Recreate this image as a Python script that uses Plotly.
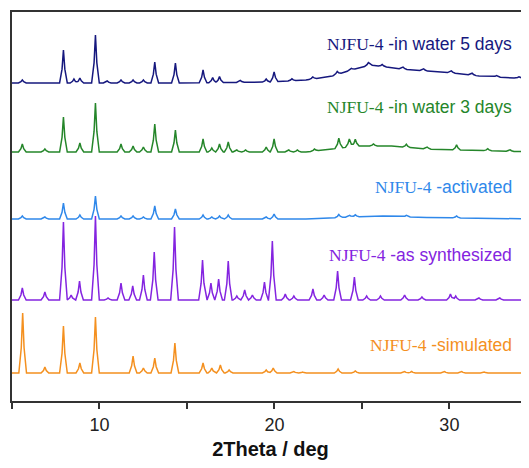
import numpy as np
import plotly.graph_objects as go

# ---------------- data ----------------
names = ["NJFU-4 -simulated", "NJFU-4 -as synthesized", "NJFU-4 -activated",
         "NJFU-4 -in water 3 days", "NJFU-4 -in water 5 days"]
colors = ["#f4901f", "#8424e0", "#2f88ea", "#25862a", "#16187e"]
offsets = [28, 101, 182, 249, 318]          # stacking offsets (a.u.)
label_y = [56, 146, 214, 294, 357]

sim_pos = [5.61, 6.88, 7.94, 8.88, 9.77, 11.92, 12.51, 13.16, 14.31, 15.92, 16.42, 16.91, 17.41,
           19.53, 19.93, 21.11, 21.61, 23.64, 24.62, 27.44, 27.84, 29.72, 30.70, 31.99]
sim_h = [60, 6, 47, 10, 56, 17, 5, 15, 30, 10, 5, 8, 3,
         3, 5, 1.5, 1, 4, 2, 1.5, 1.5, 1.5, 1.5, 1]
sim_bg_x = [5, 35]
sim_bg_y = [0, 0]

syn_pos = [5.59, 6.88, 7.94, 8.38, 8.86, 9.77, 10.49, 11.23, 11.9, 12.51, 13.13, 14.29,
           15.89, 16.37, 16.81, 17.36, 17.85, 18.30, 18.74, 19.43, 19.88, 20.62, 21.11,
           22.2, 22.84, 23.61, 24.57, 25.27, 26.06, 27.44, 28.43, 30.06, 30.36, 31.69, 32.88, 34.46]
syn_h = [12, 8, 78, 5, 19, 84, 2, 17, 14, 25, 48, 73,
         40, 17, 21, 39, 4, 10, 5, 18, 59, 6, 4,
         11, 5, 29, 23, 4, 4, 5, 3, 6, 4, 2, 2, 3]
syn_bg_x = [5, 35]
syn_bg_y = [0, 0]

act_pos = [5.59, 6.88, 7.94, 8.88, 9.77, 11.23, 11.92, 12.51, 13.16, 14.34, 15.92, 16.42, 16.86,
           17.36, 19.53, 19.98, 23.68, 24.28, 24.62, 27.54, 30.41]
act_h = [3, 2, 16, 4, 23, 3, 3, 2, 13, 10, 4, 2, 3,
         4, 2, 5, 3, 2, 2, 1.5, 2]
act_bg_x = [5, 21.8, 24.3, 26.2, 28.7, 35]
act_bg_y = [0, 0, 2, 3, 1.5, 0]

w3_pos = [5.59, 6.88, 7.94, 8.88, 9.77, 11.23, 11.92, 12.51, 13.16, 14.34, 15.92, 16.42, 16.86,
          17.36, 17.85, 18.35, 19.53, 19.98, 20.82, 21.31, 22.29, 23.68, 24.28, 24.62, 25.66,
          27.54, 28.73, 30.41, 32.19, 33.47]
w3_h = [8, 3, 35, 9, 49, 8, 6, 5, 28, 22, 13, 4, 8,
        10, 2, 2, 5, 13, 2, 2, 2, 10, 8, 7, 2,
        3, 2, 5, 2, 1.5]
w3_bg_x = [5, 21.8, 23.3, 24.7, 26.7, 28.7, 31.7, 35]
w3_bg_y = [0, 0, 3, 6, 6, 3, 1.5, 0]

w5_pos = [5.59, 7.94, 8.54, 8.88, 9.77, 10.44, 11.23, 11.92, 12.51, 13.16, 14.34, 15.92, 16.47,
          16.86, 18.05, 19.53, 19.98, 21.0, 22.19, 23.59, 24.38, 25.37, 26.16, 27.35, 28.53,
          30.11, 31.3, 32.69, 33.98]
w5_h = [3, 33, 4, 5, 48, 2, 3, 3, 3, 21, 20, 13, 5,
        6, 2, 3, 10, 2, 2, 3, 2, 3, 2, 2, 2,
        2, 2, 1.5, 1.5]
w5_bg_x = [5, 15, 19.8, 21.8, 23.3, 24.4, 25.5, 26.4, 27.3, 28.7, 30.2, 31.7, 33.7, 35]
w5_bg_y = [0, 0, 1, 3, 7, 13, 18, 16, 14, 12, 10, 7, 5, 4]

series = [
    (sim_pos, sim_h, sim_bg_x, sim_bg_y),
    (syn_pos, syn_h, syn_bg_x, syn_bg_y),
    (act_pos, act_h, act_bg_x, act_bg_y),
    (w3_pos, w3_h, w3_bg_x, w3_bg_y),
    (w5_pos, w5_h, w5_bg_x, w5_bg_y),
]

# peak shape (style only)
kx = [-0.22, -0.08, 0.0, 0.08, 0.22]
ky = [0.0, 0.42, 1.0, 0.42, 0.0]


def build(pos, h, bgx, bgy, off):
    xs = set(bgx)
    for p in pos:
        for d in kx:
            xs.add(round(p + d, 4))
    xs = np.array(sorted(xs))
    ys = np.interp(xs, bgx, bgy) + off
    for p, hh in zip(pos, h):
        ys = ys + hh * np.interp(xs - p, kx, ky, left=0, right=0)
    return xs, ys


fig = go.Figure()
for (pos, h, bgx, bgy), col, off in zip(series, colors, offsets):
    xs, ys = build(pos, h, bgx, bgy, off)
    fig.add_trace(go.Scatter(x=xs, y=ys, mode="lines",
                             line=dict(color=col, width=1.5), hoverinfo="skip",
                             showlegend=False))

for name, col, ly in zip(names, colors, label_y):
    head, tail = name.split(" ", 1)
    fig.add_annotation(
        x=33.7, y=ly, xref="x", yref="y", xanchor="right", yanchor="middle",
        text='<span style="font-family:Liberation Serif">' + head + '</span> ' + tail,
        showarrow=False, font=dict(family="Liberation Sans", size=17.5, color=col))

fig.update_layout(
    width=521, height=460,
    margin=dict(l=4, r=0, t=4, b=67),
    paper_bgcolor="white", plot_bgcolor="white",
    xaxis=dict(range=[5, 34.55], tickvals=[10, 20, 30], ticks="outside", ticklen=6,
               tickwidth=1.5, tickcolor="#333", showline=True, linecolor="#333",
               linewidth=2, mirror=True, showgrid=False, zeroline=False,
               tickfont=dict(family="Liberation Sans", size=18, color="#222"),
               minor=dict(tickvals=[5, 15, 25], ticks="outside", ticklen=6,
                          tickwidth=1.5, tickcolor="#333"),
               title=dict(text="<b>2Theta / deg</b>", standoff=8,
                          font=dict(family="Liberation Sans", size=20, color="#111"))),
    yaxis=dict(range=[0, 389], showline=True, linecolor="#333", linewidth=2,
               showticklabels=False, ticks="", showgrid=False, zeroline=False),
)

fig.write_html("out.html")
